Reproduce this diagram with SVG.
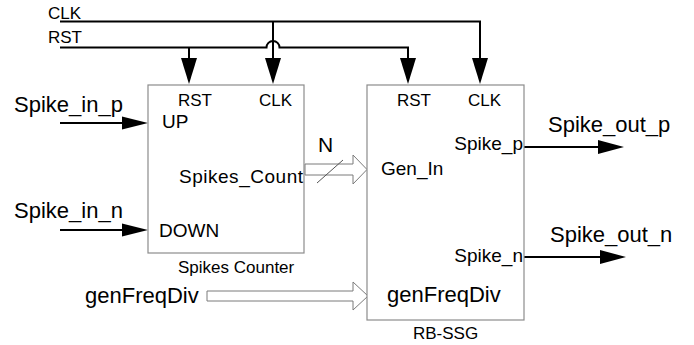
<svg xmlns="http://www.w3.org/2000/svg" width="694" height="345" viewBox="0 0 694 345">
<style>
text{font-family:"Liberation Sans",Arial,sans-serif;fill:#000}
.big{font-size:22px}
.med{font-size:19px}
.sm{font-size:17px}
.box{fill:#fff;stroke:#8c8c8c;stroke-width:1.2}
.w{fill:none;stroke:#000;stroke-width:2}
.head{fill:#000}
.bus{fill:#fff;stroke:#7a7a7a;stroke-width:1}
</style>
<rect width="694" height="345" fill="#fff"/>
<g id="connectors">
  <path class="w" d="M60,21.5 H480 V60"/>
  <path class="w" d="M273,21.5 V60"/>
  <path class="w" d="M60,47.5 H266.5 A6.5,6.5 0 0 1 279.5,47.5 H408 V60"/>
  <path class="w" d="M189,47.5 V60"/>
  <polygon class="head" points="181,58 197,58 189,84"/>
  <polygon class="head" points="265,58 281,58 273,84"/>
  <polygon class="head" points="400,58 416,58 408,84"/>
  <polygon class="head" points="472,58 488,58 480,84"/>
  <path class="w" d="M60,123 H124"/>
  <polygon class="head" points="122,116.5 148,123 122,129.5"/>
  <path class="w" d="M60,230 H124"/>
  <polygon class="head" points="122,223.5 148,230 122,236.5"/>
  <path class="w" d="M524,147 H600"/>
  <polygon class="head" points="598,140 624,147 598,154"/>
  <path class="w" d="M524,257 H602"/>
  <polygon class="head" points="600,250 626,257 600,264"/>
  <polygon class="bus" points="305,164 353,164 353,155 367,169.5 353,184 353,175 305,175"/>
  <line x1="317" y1="183" x2="343" y2="160" stroke="#555" stroke-width="1"/>
  <polygon class="bus" points="207,291 353,291 353,282 368,296 353,310 353,301 207,301"/>
</g>
<g id="spikes-counter">
  <rect class="box" x="148" y="85" width="156" height="168"/>
  <text class="sm" x="178" y="106">RST</text>
  <text class="sm" x="259" y="106">CLK</text>
  <text class="med" x="162" y="128">UP</text>
  <text class="med" x="179" y="183" textLength="124" lengthAdjust="spacing">Spikes_Count</text>
  <text class="med" x="159" y="237">DOWN</text>
  <text class="sm" x="178" y="273">Spikes Counter</text>
</g>
<g id="rb-ssg">
  <rect class="box" x="367" y="85" width="157" height="235"/>
  <text class="sm" x="397" y="106">RST</text>
  <text class="sm" x="468" y="106">CLK</text>
  <text class="med" x="523" y="150" text-anchor="end">Spike_p</text>
  <text class="med" x="381" y="175">Gen_In</text>
  <text class="med" x="523" y="262" text-anchor="end">Spike_n</text>
  <text class="big" x="387" y="302">genFreqDiv</text>
  <text class="sm" x="413" y="339">RB-SSG</text>
</g>
<g id="labels">
  <text class="sm" x="48" y="19">CLK</text>
  <text class="sm" x="48" y="43">RST</text>
  <text class="big" x="14" y="112">Spike_in_p</text>
  <text class="big" x="14" y="218">Spike_in_n</text>
  <text class="big" x="318" y="152" style="font-size:21px">N</text>
  <text class="big" x="548" y="132">Spike_out_p</text>
  <text class="big" x="550" y="242">Spike_out_n</text>
  <text class="big" x="85" y="303">genFreqDiv</text>
</g>
</svg>
